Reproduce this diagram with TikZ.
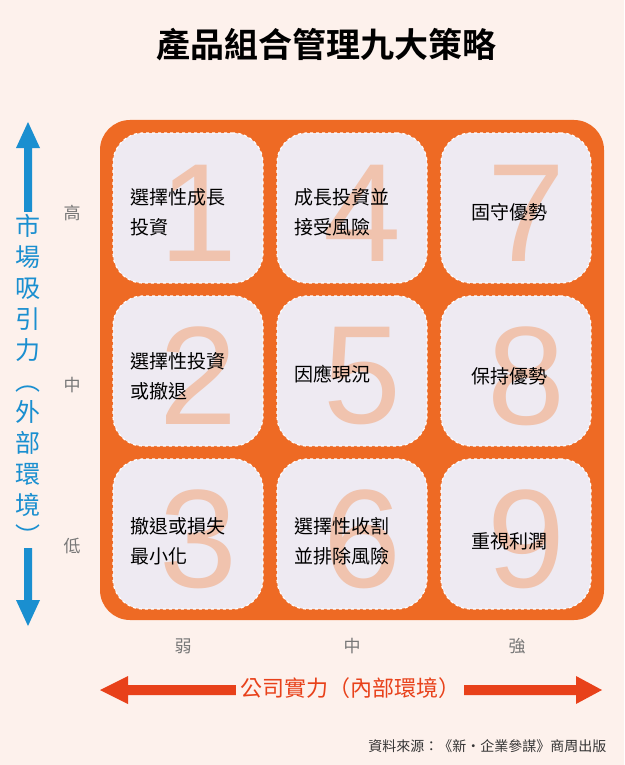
\documentclass[tikz,border=0pt]{standalone}
\usepackage{fontspec}
\newfontfamily\cjk{Noto Sans CJK TC}
\newfontfamily\cjkb{Noto Sans CJK TC Bold}
\newfontfamily\numf{Liberation Sans}
\usetikzlibrary{arrows.meta}
\definecolor{bg}{HTML}{FDF1EC}
\definecolor{org}{HTML}{EE6A24}
\definecolor{cellf}{HTML}{EEEAF2}
\definecolor{numc}{HTML}{F0C3AE}
\definecolor{blu}{HTML}{1A8FD0}
\definecolor{red}{HTML}{E8411A}
\definecolor{gr}{HTML}{777777}
\begin{document}
\begin{tikzpicture}[x=1pt,y=-1pt,
  cell/.style={draw=white,dashed,line width=1.2pt,fill=cellf,rounded corners=30pt,minimum width=150pt,minimum height=150pt},
  num/.style={text=numc,font=\numf\fontsize{140}{140}\selectfont},
  lab/.style={font=\cjk\fontsize{19}{30}\selectfont,align=left,text=black,anchor=west},
  axl/.style={font=\cjk\fontsize{17}{17}\selectfont,text=gr}]
\useasboundingbox[fill=bg] (0,0) rectangle (624,765);
\node[font=\cjkb\fontsize{34}{34}\selectfont] (title) at (326,45) {產品組合管理九大策略};
\node[fill=org,rounded corners=30pt,minimum width=504pt,minimum height=500pt] (board) at (352,370) {};
\foreach \c/\x in {0/188,1/352,2/516}{
 \foreach \r/\y in {0/208,1/371,2/534}{
  \pgfmathtruncatemacro{\n}{\c*3+\r+1}
  \node[cell] (c\n) at (\x,\y) {};
  \node[num] (n\n) at (\x+10,\y+5) {\n};
 }}
\node[lab] (t1) at (127,212) {選擇性成長\\投資};
\node[lab] (t2) at (127,376) {選擇性投資\\或撤退};
\node[lab] (t3) at (127,541) {撤退或損失\\最小化};
\node[lab] (t4) at (291,212) {成長投資並\\接受風險};
\node[lab] (t5) at (291,374) {因應現況};
\node[lab] (t6) at (291,541) {選擇性收割\\並排除風險};
\node[lab] (t7) at (468,212) {固守優勢};
\node[lab] (t8) at (468,376) {保持優勢};
\node[lab] (t9) at (468,541) {重視利潤};
\node[axl] (h) at (72,213) {高};
\node[axl] (m) at (72,385) {中};
\node[axl] (l) at (72,546) {低};
\node[axl] (w) at (183,646) {弱};
\node[axl] (m2) at (352,646) {中};
\node[axl] (s) at (517,646) {強};
\coordinate (bt) at (28,122);
\coordinate (bb) at (28,626);
\fill[blu] (bt) -- (16,148) -- (24,148) -- (24,600) -- (16,600) -- (bb) -- (40,600) -- (32,600) -- (32,148) -- (40,148) -- cycle;
\node[fill=bg,inner sep=2pt,text=blu,font=\cjk\fontsize{25}{31}\selectfont,align=center] (vt) at (28,380) {市\\場\\吸\\引\\力\\︵\\外\\部\\環\\境\\︶};
\coordinate (rl) at (100,690);
\coordinate (rr) at (602,690);
\fill[red] (rl) -- (128,676) -- (128,685) -- (576,685) -- (576,676) -- (rr) -- (576,704) -- (576,695) -- (128,695) -- (128,704) -- cycle;
\node[fill=bg,inner sep=4pt,text=red,font=\cjk\fontsize{22}{22}\selectfont] (ht) at (350,688) {公司實力（內部環境）};
\node[font=\cjk\fontsize{14}{14}\selectfont,text=black!80,anchor=east] (src) at (610,746) {資料來源：《新・企業參謀》商周出版};
\end{tikzpicture}
\end{document}
